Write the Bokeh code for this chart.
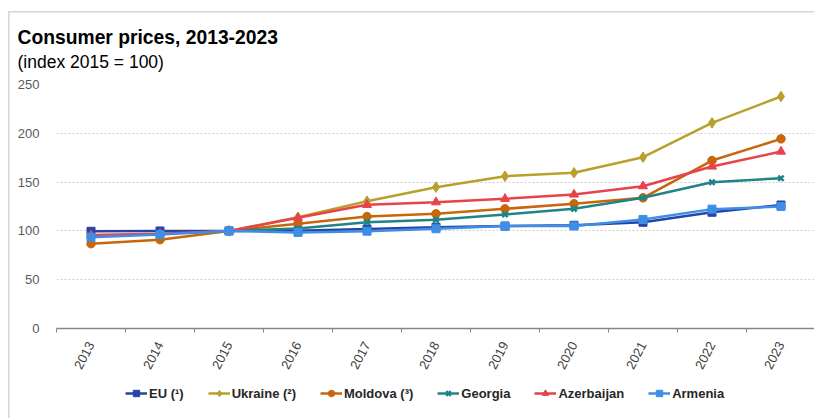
import math
from bokeh.plotting import figure
from bokeh.layouts import column
from bokeh.models import (ColumnDataSource, FixedTicker, Legend, LegendItem, Label,
                          Range1d)
from bokeh.embed import file_html
from bokeh.resources import INLINE

nan = float("nan")

years = [2013, 2014, 2015, 2016, 2017, 2018, 2019, 2020, 2021, 2022, 2023]
year_labels = [str(y) for y in years]
eu = [99.6, 99.9, 100, 100.2, 101.9, 103.8, 104.9, 105.8, 108.8, 119.1, 126.5]
ukraine = [nan, nan, 100, 113.9, 130.4, 144.8, 156.0, 159.5, 175.5, 210.7, 237.7]
moldova = [86.9, 91.0, 100, 107.3, 114.7, 117.5, 122.6, 127.8, 133.9, 172.1, 194.3]
georgia = [nan, nan, 100, 102.4, 108.9, 111.3, 116.8, 122.6, 133.9, 149.9, 154.0]
azerbaijan = [95.8, 97.2, 100, 113.4, 126.7, 129.4, 132.9, 137.3, 145.8, 166.0, 181.3]
armenia = [93.5, 96.3, 100, 98.4, 99.7, 102.2, 105.0, 105.0, 111.7, 122.3, 125.0]

series = [
    ("EU (¹)", eu, "#2644A7", "square"),
    ("Ukraine (²)", ukraine, "#B9A02A", "diamond"),
    ("Moldova (³)", moldova, "#C8660C", "circle"),
    ("Georgia", georgia, "#208486", "asterisk"),
    ("Azerbaijan", azerbaijan, "#E8424A", "triangle"),
    ("Armenia", armenia, "#3E8EE6", "square"),
]
marker_sizes = {"square": 8, "diamond": 10.5, "circle": 8.5, "triangle": 9}

W = 814
FONT = "Liberation Sans"


def bare(height):
    f = figure(width=W, height=height, output_backend="svg", toolbar_location=None,
               title_location=None, x_axis_type=None, y_axis_type=None,
               x_range=Range1d(0, 1), y_range=Range1d(0, 1),
               min_border=0, frame_align=False)
    f.outline_line_color = None
    f.background_fill_alpha = 0
    f.border_fill_alpha = 0
    return f


# ---- title block ----
top = bare(76)
top.add_layout(Label(x=17, y=39, x_units="screen", y_units="screen",
                     text="Consumer prices, 2013-2023", text_font=FONT,
                     text_font_style="bold", text_font_size="19.3px",
                     text_color="#000000", text_baseline="alphabetic"))
top.add_layout(Label(x=17, y=15, x_units="screen", y_units="screen",
                     text="(index 2015 = 100)", text_font=FONT,
                     text_font_size="17.5px", text_color="#000000",
                     text_baseline="alphabetic"))

# ---- main chart ----
p = figure(width=W, height=300, output_backend="svg", toolbar_location=None,
           title_location=None, frame_align=False,
           x_range=Range1d(2012.5, 2012.5 + 758 / 69.0), y_range=Range1d(0, 250),
           min_border_left=56, min_border_right=0, min_border_top=8,
           min_border_bottom=48)
p.outline_line_color = None
p.background_fill_color = "white"
p.border_fill_alpha = 0

p.xaxis.ticker = FixedTicker(ticks=years, minor_ticks=[y - 0.5 for y in years] + [2023.5])
p.xaxis.major_label_overrides = {y: s for y, s in zip(years, year_labels)}
p.xaxis.major_tick_line_color = None
p.xaxis.minor_tick_line_color = "#868686"
p.xaxis.minor_tick_in = 0
p.xaxis.minor_tick_out = 4
p.xaxis.axis_line_color = "#868686"
p.xaxis.axis_line_width = 1.5
p.xaxis.major_label_orientation = math.radians(62)
p.xaxis.major_label_standoff = 8
p.xaxis.major_label_text_font = FONT
p.xaxis.major_label_text_font_size = "13px"
p.xaxis.major_label_text_color = "#404040"

p.yaxis.ticker = FixedTicker(ticks=[0, 50, 100, 150, 200, 250])
p.yaxis.axis_line_color = None
p.yaxis.major_tick_line_color = None
p.yaxis.minor_tick_line_color = None
p.yaxis.major_label_standoff = 11
p.yaxis.major_label_text_font = FONT
p.yaxis.major_label_text_font_size = "13px"
p.yaxis.major_label_text_color = "#595959"

p.xgrid.grid_line_color = None
p.ygrid.grid_line_color = "#cfcfcf"
p.ygrid.grid_line_dash = "2 2"
p.ygrid.grid_line_width = 1

# ---- legend block ----
leg = bare(42)
items = []
for name, vals, color, marker in series:
    src = ColumnDataSource(dict(x=years, y=vals))
    p.line("x", "y", source=src, line_color=color, line_width=2.5)
    # legend swatches: same styles, points placed outside the visible range
    offscreen = ColumnDataSource(dict(x=[5, 6], y=[5, 6]))
    l1 = leg.line("x", "y", source=offscreen, line_color=color, line_width=2.5)
    if marker == "asterisk":
        kw = dict(marker="x", size=7.5, line_color=color, line_width=2.5)
    else:
        kw = dict(marker=marker, size=marker_sizes[marker],
                  fill_color=color, line_color=color, line_width=1)
    p.scatter("x", "y", source=src, **kw)
    l2 = leg.scatter("x", "y", source=offscreen, **kw)
    items.append(LegendItem(label=name, renderers=[l1, l2]))

legend = Legend(items=items, orientation="horizontal", location=(125, 17),
                padding=0, margin=0, spacing=24, label_standoff=2,
                glyph_width=22, glyph_height=16, label_height=16,
                label_text_font=FONT, label_text_font_style="bold",
                label_text_font_size="13px", label_text_color="#262626",
                border_line_color=None, background_fill_alpha=0)
leg.add_layout(legend, "center")

layout = column(top, p, leg, spacing=0)
layout.styles = {
    "background": "linear-gradient(#d6d6d6, #d6d6d6) 8px 11px / 1.5px 100% no-repeat, "
                  "linear-gradient(#d6d6d6, #d6d6d6) 8px 11px / 100% 1.5px no-repeat, white"
}

open("out.html", "w").write(file_html(layout, INLINE))
